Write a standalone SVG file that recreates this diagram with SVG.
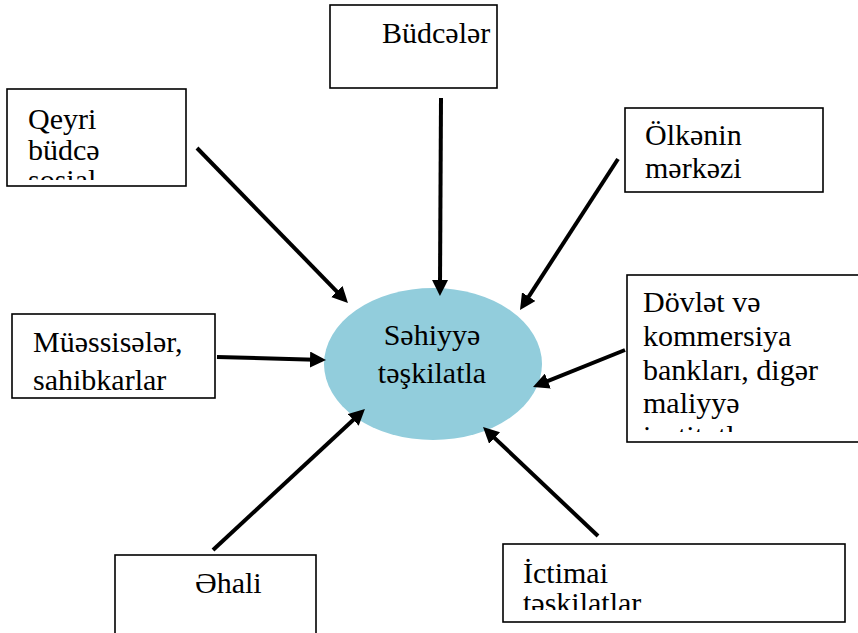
<svg xmlns="http://www.w3.org/2000/svg" width="858" height="633" viewBox="0 0 858 633">
<style>
.box{fill:#fff;stroke:#000;stroke-width:1.6}
text{font-family:'Liberation Serif','Times New Roman','DejaVu Serif',serif;font-size:30px;fill:#000}
.c{fill:none;stroke:#000;stroke-width:4}
</style>
<defs>
<marker id="ah" markerUnits="userSpaceOnUse" viewBox="0 0 16 16" markerWidth="16" markerHeight="16" refX="5" refY="8" orient="auto">
<path d="M0,0 L16,8 L0,16 Z" fill="#000"/>
</marker>
<clipPath id="cq"><rect x="7" y="89" width="179" height="91"/></clipPath>
<clipPath id="cd"><rect x="627" y="275" width="231" height="157"/></clipPath>
<clipPath id="ci"><rect x="503" y="544" width="342" height="66"/></clipPath>
</defs>
<rect width="858" height="633" fill="#fff"/>
<g id="center">
<ellipse cx="433" cy="364" rx="109" ry="76" fill="#92CDDC"/>
<text x="432" y="345" text-anchor="middle">Səhiyyə</text>
<text x="432" y="383" text-anchor="middle">təşkilatla</text>
</g>
<g id="budceler">
<rect class="box" x="330" y="5" width="167" height="83"/>
<text x="382" y="43">Büdcələr</text>
</g>
<g id="qeyri">
<rect class="box" x="7" y="89" width="179" height="97"/>
<g clip-path="url(#cq)">
<text x="28" y="129">Qeyri</text>
<text x="28" y="160">büdcə</text>
<text x="28" y="190">sosial</text>
</g>
</g>
<g id="olkenin">
<rect class="box" x="625" y="108" width="198" height="84"/>
<text x="645" y="145">Ölkənin</text>
<text x="645" y="178">mərkəzi</text>
</g>
<g id="muessiseler">
<rect class="box" x="12" y="314" width="203" height="84"/>
<text x="33" y="352">Müəssisələr,</text>
<text x="33" y="390">sahibkarlar</text>
</g>
<g id="dovlet">
<rect class="box" x="627" y="275" width="232" height="167"/>
<g clip-path="url(#cd)">
<text x="643" y="312">Dövlət və</text>
<text x="643" y="346">kommersiya</text>
<text x="643" y="380">bankları, digər</text>
<text x="643" y="413">maliyyə</text>
<text x="643" y="446">institutlar</text>
</g>
</g>
<g id="ehali">
<rect class="box" x="115" y="555" width="201" height="90"/>
<text x="195" y="593">Əhali</text>
</g>
<g id="ictimai">
<rect class="box" x="503" y="544" width="342" height="78"/>
<g clip-path="url(#ci)">
<text x="523" y="583">İctimai</text>
<text x="523" y="613">təşkilatlar</text>
</g>
</g>
<g id="connectors">
<line class="c" x1="441" y1="98" x2="440" y2="285" marker-end="url(#ah)"/>
<line class="c" x1="197" y1="148" x2="340.3" y2="295.1" marker-end="url(#ah)"/>
<line class="c" x1="618" y1="159" x2="526" y2="300.8" marker-end="url(#ah)"/>
<line class="c" x1="217" y1="357" x2="315" y2="359.7" marker-end="url(#ah)"/>
<line class="c" x1="625" y1="350" x2="543.2" y2="382.9" marker-end="url(#ah)"/>
<line class="c" x1="213" y1="550" x2="356.9" y2="416.5" marker-end="url(#ah)"/>
<line class="c" x1="598" y1="536" x2="491" y2="434.6" marker-end="url(#ah)"/>
</g>
</svg>
